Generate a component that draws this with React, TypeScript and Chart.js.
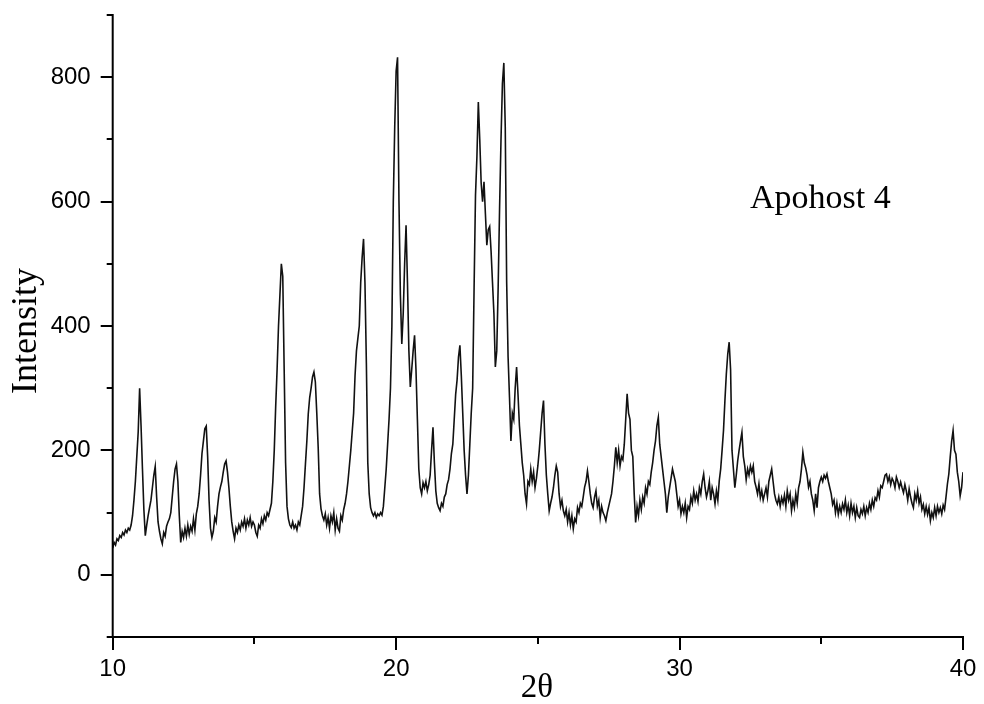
import { useEffect, useRef } from "react";
import { Chart, registerables } from "chart.js";

Chart.register(...registerables);

// 2θ sampling of the scan
const startAngle = 10;
const stepAngle = 0.05;

// Intensity readings, 2θ = 10.00 … 14.95
const intensity10to15 = [
  43, 52, 48, 58, 55, 63, 60, 68, 64, 72, 68, 75, 72, 80, 95, 120, 150, 190, 230, 300,
  240, 170, 105, 63, 80, 95, 108, 120, 140, 160, 174, 125, 85, 70, 58, 50, 68, 62, 78, 85,
  90, 100, 125, 150, 170, 178, 150, 95, 52, 70, 60, 75, 62, 80, 65, 78, 70, 90, 72, 98,
  110, 130, 160, 195, 215, 235, 239, 190, 120, 75, 60, 70, 92, 85, 110, 130, 141, 150, 165, 178,
  183, 165, 140, 110, 85, 70, 58, 75, 68, 80, 72, 85, 78, 90, 75, 88, 80, 92, 78, 85,
];
// 2θ = 15.00 … 19.95
const intensity15to20 = [
  80, 68, 62, 80, 75, 90, 82, 95, 88, 100, 95, 105, 115, 150, 200, 270, 330, 400, 450, 500,
  480, 330, 180, 110, 90, 80, 76, 85, 75, 80, 72, 85, 80, 95, 110, 140, 178, 215, 259, 285,
  300, 318, 326, 310, 260, 205, 130, 106, 95, 88, 98, 80, 92, 75, 95, 85, 100, 72, 90, 75,
  70, 95, 88, 105, 115, 130, 150, 175, 200, 230, 260, 320, 360, 380, 400, 470, 510, 540, 470, 340,
  180, 130, 108, 100, 95, 100, 92, 98, 95, 100, 96, 110, 140, 170, 210, 250, 300, 400, 600, 720,
];
// 2θ = 20.00 … 24.95
const intensity20to25 = [
  810, 832, 600, 450, 371, 420, 500, 562, 470, 360, 302, 330, 360, 385, 330, 250, 170, 140, 130, 148,
  140, 150, 135, 145, 160, 200, 237, 180, 135, 115, 108, 103, 115, 110, 125, 130, 145, 153, 170, 195,
  210, 250, 290, 313, 350, 369, 320, 260, 200, 160, 130, 160, 210, 260, 300, 460, 610, 672, 760, 700,
  630, 600, 632, 580, 530, 555, 560, 520, 470, 420, 334, 360, 463, 590, 700, 790, 823, 720, 470, 350,
  285, 215, 260, 250, 300, 334, 290, 240, 210, 180, 160, 130, 114, 150, 145, 170, 150, 165, 140, 155,
];
// 2θ = 25.00 … 29.95
const intensity25to30 = [
  175, 200, 230, 260, 280, 210, 160, 130, 103, 115, 125, 140, 160, 175, 165, 130, 110, 120, 103, 95,
  105, 85, 100, 80, 95, 74, 90, 85, 108, 100, 115, 110, 125, 141, 150, 167, 150, 130, 115, 108,
  125, 135, 110, 120, 92, 110, 100, 95, 87, 100, 110, 120, 130, 150, 175, 205, 180, 200, 175, 190,
  185, 210, 250, 291, 260, 250, 200, 190, 130, 84, 110, 95, 120, 105, 125, 115, 140, 130, 150, 145,
  165, 180, 200, 215, 240, 253, 210, 190, 170, 150, 130, 100, 125, 140, 155, 170, 160, 150, 130, 110,
];
// 2θ = 30.00 … 34.95
const intensity30to35 = [
  120, 98, 110, 100, 115, 92, 110, 105, 125, 115, 135, 120, 130, 118, 140, 130, 150, 162, 140, 125,
  135, 150, 120, 140, 130, 114, 135, 120, 151, 170, 200, 232, 280, 323, 355, 374, 330, 200, 170, 140,
  160, 183, 200, 215, 229, 190, 175, 153, 170, 160, 175, 165, 175, 150, 141, 130, 146, 124, 135, 120,
  130, 140, 125, 150, 160, 170, 150, 130, 120, 114, 125, 110, 124, 115, 128, 110, 135, 120, 130, 103,
  120, 108, 130, 115, 140, 150, 170, 197, 180, 172, 160, 141, 150, 130, 120, 103, 130, 108, 140, 150,
];
// 2θ = 35.00 … 40.00
const intensity35to40 = [
  157, 150, 160, 155, 162, 150, 140, 130, 113, 120, 100, 115, 97, 110, 100, 114, 105, 120, 100, 112,
  95, 115, 100, 110, 92, 108, 95, 92, 105, 98, 110, 95, 108, 100, 115, 105, 120, 110, 124, 120,
  135, 125, 143, 140, 150, 160, 162, 150, 158, 145, 155, 150, 140, 157, 150, 140, 149, 140, 132, 145,
  135, 120, 138, 125, 115, 108, 130, 120, 135, 115, 125, 105, 113, 98, 110, 97, 108, 87, 100, 92,
  108, 95, 110, 100, 108, 98, 112, 105, 125, 146, 162, 190, 215, 232, 200, 194, 165, 150, 127, 140, 165,
];

const xTickLabels = ["10", "20", "30", "40"];
const yTickLabels = ["0", "200", "400", "600", "800"];
const xTitle = "2θ";
const yTitle = "Intensity";
const sampleLabel = "Apohost 4";

const allIntensity = [
  ...intensity10to15,
  ...intensity15to20,
  ...intensity20to25,
  ...intensity25to30,
  ...intensity30to35,
  ...intensity35to40,
];

const points = allIntensity.map((v, i) => ({
  x: Math.round((startAngle + i * stepAngle) * 100) / 100,
  y: v,
}));

const originAxes = {
  id: "originAxes",
  afterDraw(chart: any) {
    const { ctx } = chart;
    const xs = chart.scales.x;
    const ys = chart.scales.y;
    const left = xs.getPixelForValue(xs.min);
    const right = xs.getPixelForValue(xs.max);
    const top = ys.getPixelForValue(ys.max);
    const bottom = ys.getPixelForValue(ys.min);
    ctx.save();
    ctx.strokeStyle = "#000";
    ctx.lineWidth = 2;
    ctx.lineCap = "square";
    ctx.beginPath();
    ctx.moveTo(left, top);
    ctx.lineTo(left, bottom);
    ctx.lineTo(right, bottom);
    ctx.stroke();
    ctx.lineCap = "butt";
    ctx.beginPath();
    for (const t of ys.ticks) {
      const py = Math.round(ys.getPixelForValue(t.value));
      const major = yTickLabels.includes(String(t.value));
      ctx.moveTo(left, py);
      ctx.lineTo(left - (major ? 12 : 6), py);
    }
    for (const t of xs.ticks) {
      const px = Math.round(xs.getPixelForValue(t.value));
      const major = xTickLabels.includes(String(t.value));
      ctx.moveTo(px, bottom);
      ctx.lineTo(px, bottom + (major ? 13 : 7));
    }
    ctx.stroke();

    ctx.fillStyle = "#000";
    ctx.font = "33px 'Liberation Serif', 'Times New Roman', serif";
    ctx.textAlign = "center";
    ctx.textBaseline = "alphabetic";
    ctx.fillText(xTitle, 537, 697);

    ctx.font = "34px 'Liberation Serif', 'Times New Roman', serif";
    ctx.textAlign = "left";
    ctx.fillText(sampleLabel, 750, 208);

    ctx.save();
    ctx.translate(36, 331);
    ctx.rotate(-Math.PI / 2);
    ctx.font = "36px 'Liberation Serif', 'Times New Roman', serif";
    ctx.textAlign = "center";
    ctx.fillText(yTitle, 0, 0);
    ctx.restore();
    ctx.restore();
  },
};

export default function App() {
  const ref = useRef<HTMLCanvasElement | null>(null);
  useEffect(() => {
    if (!ref.current) return;
    const chart = new Chart(ref.current, {
      type: "line",
      data: {
        datasets: [
          {
            data: points,
            borderColor: "#111",
            borderWidth: 1.6,
            pointRadius: 0,
            tension: 0,
            fill: false,
          },
        ],
      },
      options: {
        animation: false,
        responsive: false,
        devicePixelRatio: 1,
        parsing: false,
        normalized: true,
        layout: { padding: { left: 0, right: 21, top: 15, bottom: 0 } },
        plugins: { legend: { display: false }, tooltip: { enabled: false } },
        scales: {
          x: {
            type: "linear",
            min: 10,
            max: 40,
            border: { display: false },
            grid: { display: false, drawTicks: false },
            afterFit: (s: any) => {
              s.height = 67;
              s.paddingLeft = 0;
              s.paddingRight = 0;
              s.paddingTop = 0;
              s.paddingBottom = 0;
            },
            ticks: {
              stepSize: 5,
              autoSkip: false,
              maxRotation: 0,
              padding: 18,
              color: "#000",
              font: { family: "'Liberation Sans', Arial, sans-serif", size: 24 },
              callback: (v: any) => (xTickLabels.includes(String(v)) ? String(v) : ""),
            },
          },
          y: {
            type: "linear",
            min: -100,
            max: 900,
            border: { display: false },
            grid: { display: false, drawTicks: false },
            afterFit: (s: any) => {
              s.width = 112.7;
              s.paddingLeft = 0;
              s.paddingRight = 0;
              s.paddingTop = 0;
              s.paddingBottom = 0;
            },
            ticks: {
              stepSize: 100,
              autoSkip: false,
              padding: 22,
              color: "#000",
              font: { family: "'Liberation Sans', Arial, sans-serif", size: 24 },
              callback: (v: any) => (yTickLabels.includes(String(v)) ? String(v) : ""),
            },
          },
        },
      },
      plugins: [originAxes],
    });
    return () => chart.destroy();
  }, []);
  return (
    <div style={{ position: "fixed", left: 0, top: 0, width: 984, height: 704, background: "#fff" }}>
      <canvas ref={ref} width={984} height={704} style={{ display: "block" }} />
    </div>
  );
}
